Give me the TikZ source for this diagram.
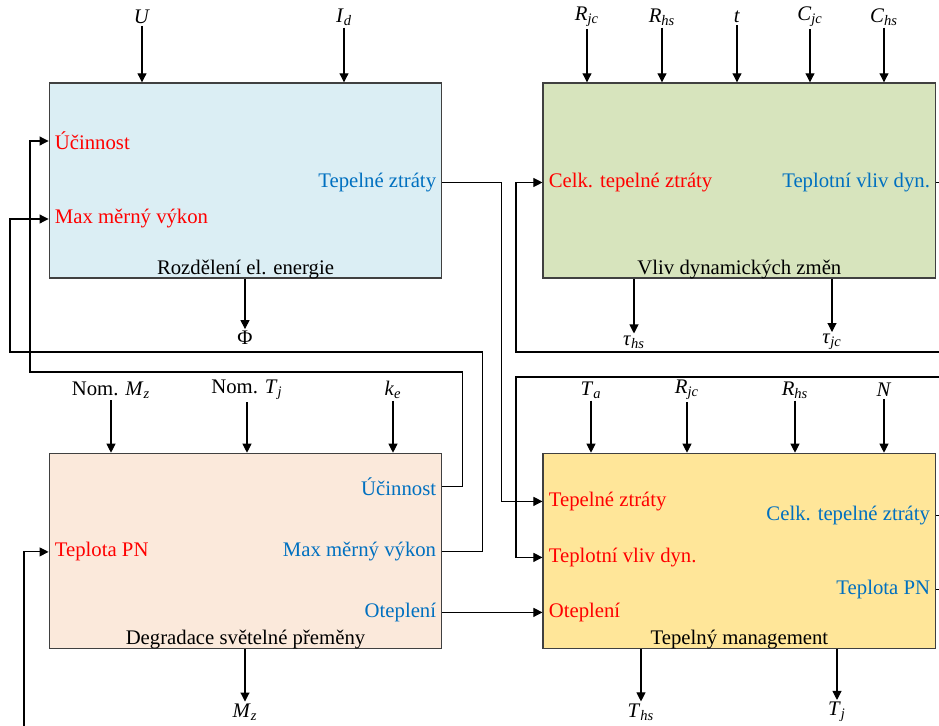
\documentclass[tikz,border=0pt]{standalone}
\usepackage{fontspec}
\setmainfont{LiberationSerif}[Extension=.ttf, UprightFont=*-Regular, ItalicFont=*-Italic, BoldFont=*-Bold, BoldItalicFont=*-BoldItalic]
\usepackage{xcolor}
\usepackage{tikz}
\usetikzlibrary{arrows.meta,positioning,calc}

\definecolor{portred}{RGB}{255,0,0}
\definecolor{portblue}{RGB}{0,112,192}
\definecolor{boxline}{RGB}{64,64,64}
\definecolor{fillA}{RGB}{219,238,244}
\definecolor{fillB}{RGB}{215,228,189}
\definecolor{fillC}{RGB}{251,233,219}
\definecolor{fillD}{RGB}{255,230,153}

\newcommand{\sym}[2]{\textit{#1}\textsubscript{\textit{#2}}}

\begin{document}
\begin{tikzpicture}[
    node distance=3.48cm and 2.0cm,
    every node/.style={font=\fontsize{11.8}{14}\selectfont},
    blk/.style={rectangle, draw=boxline, line width=0.8pt, minimum height=3.9cm, minimum width=7.85cm, inner sep=0pt},
    inr/.style={text=portred, inner sep=0pt},
    outb/.style={text=portblue, inner sep=0pt},
    ttl/.style={inner sep=0pt},
    sig/.style={inner sep=1pt},
    arr/.style={-{Triangle[length=1.8mm,width=1.8mm]}, line width=0.6pt}
]
    \useasboundingbox (0,0) rectangle (18.78,-14.52);
    \clip (0,0) rectangle (18.78,-14.52);

    % blocks
    \node [blk, fill=fillA] (A) at (4.91,-3.61) {};
    \node [blk, fill=fillB, right=of A] (B) {};
    \node [blk, fill=fillC, below=of A] (C) {};
    \node [blk, fill=fillD, right=of C] (D) {};

    \node [ttl] (tA) at ($(A.south)+(0,0.19)$) {Rozdělení el. energie};
    \node [ttl] (tB) at ($(B.south)+(0,0.19)$) {Vliv dynamických změn};
    \node [ttl] (tC) at ($(C.south)+(0,0.19)$) {Degradace světelné přeměny};
    \node [ttl] (tD) at ($(D.south)+(0,0.19)$) {Tepelný management};

    % ports
    \node [inr, anchor=west] (aEff) at ($(A.west)+(0.12,0.79)$) {Účinnost};
    \node [inr, anchor=west] (aMax) at ($(A.west)+(0.12,-0.77)$) {Max měrný výkon};
    \node [outb, anchor=east] (aLoss) at ($(A.east)+(-0.12,-0.04)$) {Tepelné ztráty};

    \node [inr, anchor=west] (bCelk) at ($(B.west)+(0.12,-0.04)$) {Celk. tepelné ztráty};
    \node [outb, anchor=east] (bDyn) at ($(B.east)+(-0.12,-0.04)$) {Teplotní vliv dyn.};

    \node [inr, anchor=west] (cPN) at ($(C.west)+(0.12,-0.02)$) {Teplota PN};
    \node [outb, anchor=east] (cEff) at ($(C.east)+(-0.12,1.29)$) {Účinnost};
    \node [outb, anchor=east] (cMax) at ($(C.east)+(-0.12,-0.02)$) {Max měrný výkon};
    \node [outb, anchor=east] (cHeat) at ($(C.east)+(-0.12,-1.23)$) {Oteplení};

    \node [inr, anchor=west] (dLoss) at ($(D.west)+(0.12,0.99)$) {Tepelné ztráty};
    \node [inr, anchor=west] (dDyn) at ($(D.west)+(0.12,-0.13)$) {Teplotní vliv dyn.};
    \node [inr, anchor=west] (dHeat) at ($(D.west)+(0.12,-1.23)$) {Oteplení};
    \node [outb, anchor=east] (dCelk) at ($(D.east)+(-0.12,0.71)$) {Celk. tepelné ztráty};
    \node [outb, anchor=east] (dPN) at ($(D.east)+(-0.12,-0.77)$) {Teplota PN};

    % inputs
    \node [sig] (inU) at (2.84,-0.34) {\textit{U}};
    \node [sig] (inId) at (6.88,-0.34) {\sym{I}{d}};
    \node [sig] (inRjc) at (11.74,-0.34) {\sym{R}{jc}};
    \node [sig] (inRhs) at (13.24,-0.34) {\sym{R}{hs}};
    \node [sig] (inT) at (14.74,-0.34) {\textit{t}};
    \node [sig] (inCjc) at (16.20,-0.34) {\sym{C}{jc}};
    \node [sig] (inChs) at (17.68,-0.34) {\sym{C}{hs}};
    \node [sig] (inMz) at (2.22,-7.80) {Nom. \sym{M}{z}};
    \node [sig] (inTj) at (4.94,-7.80) {Nom. \sym{T}{j}};
    \node [sig] (inKe) at (7.86,-7.80) {\sym{k}{e}};
    \node [sig] (inTa) at (11.82,-7.80) {\sym{T}{a}};
    \node [sig] (inRjc2) at (13.74,-7.80) {\sym{R}{jc}};
    \node [sig] (inRhs2) at (15.90,-7.80) {\sym{R}{hs}};
    \node [sig] (inN) at (17.68,-7.80) {\textit{N}};

    \draw [arr] (inU) -- (inU |- A.north);
    \draw [arr] (inId) -- (inId |- A.north);
    \draw [arr] (inRjc) -- (inRjc |- B.north);
    \draw [arr] (inRhs) -- (inRhs |- B.north);
    \draw [arr] (inT) -- (inT |- B.north);
    \draw [arr] (inCjc) -- (inCjc |- B.north);
    \draw [arr] (inChs) -- (inChs |- B.north);
    \draw [arr] (inMz) -- (inMz |- C.north);
    \draw [arr] (inTj) -- (inTj |- C.north);
    \draw [arr] (inKe) -- (inKe |- C.north);
    \draw [arr] (inTa) -- (inTa |- D.north);
    \draw [arr] (inRjc2) -- (inRjc2 |- D.north);
    \draw [arr] (inRhs2) -- (inRhs2 |- D.north);
    \draw [arr] (inN) -- (inN |- D.north);

    % outputs
    \node [sig] (outPhi) at (4.90,-6.76) {Φ};
    \node [sig] (outThs) at (12.68,-6.84) {\sym{τ}{hs}};
    \node [sig] (outTjc) at (16.64,-6.84) {\sym{τ}{jc}};
    \node [sig] (outMz) at (4.90,-14.24) {\sym{M}{z}};
    \node [sig] (outTh) at (12.82,-14.24) {\sym{T}{hs}};
    \node [sig] (outTj) at (16.74,-14.24) {\sym{T}{j}};

    \draw [arr] (outPhi |- A.south) -- (outPhi);
    \draw [arr] (outThs |- B.south) -- (outThs);
    \draw [arr] (outTjc |- B.south) -- (outTjc);
    \draw [arr] (outMz |- C.south) -- (outMz);
    \draw [arr] (outTh |- D.south) -- (outTh);
    \draw [arr] (outTj |- D.south) -- (outTj);

    % feedback wires
    \draw [arr] (aLoss.east -| A.east) -- ++(1.18,0) |- (dLoss.west -| D.west);
    \draw [arr] (bDyn.east -| B.east) -- ++(0.6,0) |- (10.32,-7.54) |- (dDyn.west -| D.west);
    \draw [arr] (dCelk.east -| D.east) -- ++(0.8,0) |- (10.32,-7.04) |- (bCelk.west -| B.west);
    \draw [arr] (dPN.east -| D.east) -- ++(1.0,0) |- (0.48,-15.2) |- (cPN.west -| C.west);
    \draw [arr] (cEff.east -| C.east) -- ++(0.405,0) |- (0.6,-7.44) |- (aEff.west -| A.west);
    \draw [arr] (cMax.east -| C.east) -- ++(0.805,0) |- (0.2,-7.04) |- (aMax.west -| A.west);
    \draw [arr] (cHeat.east -| C.east) -- (dHeat.west -| D.west);
\end{tikzpicture}
\end{document}
